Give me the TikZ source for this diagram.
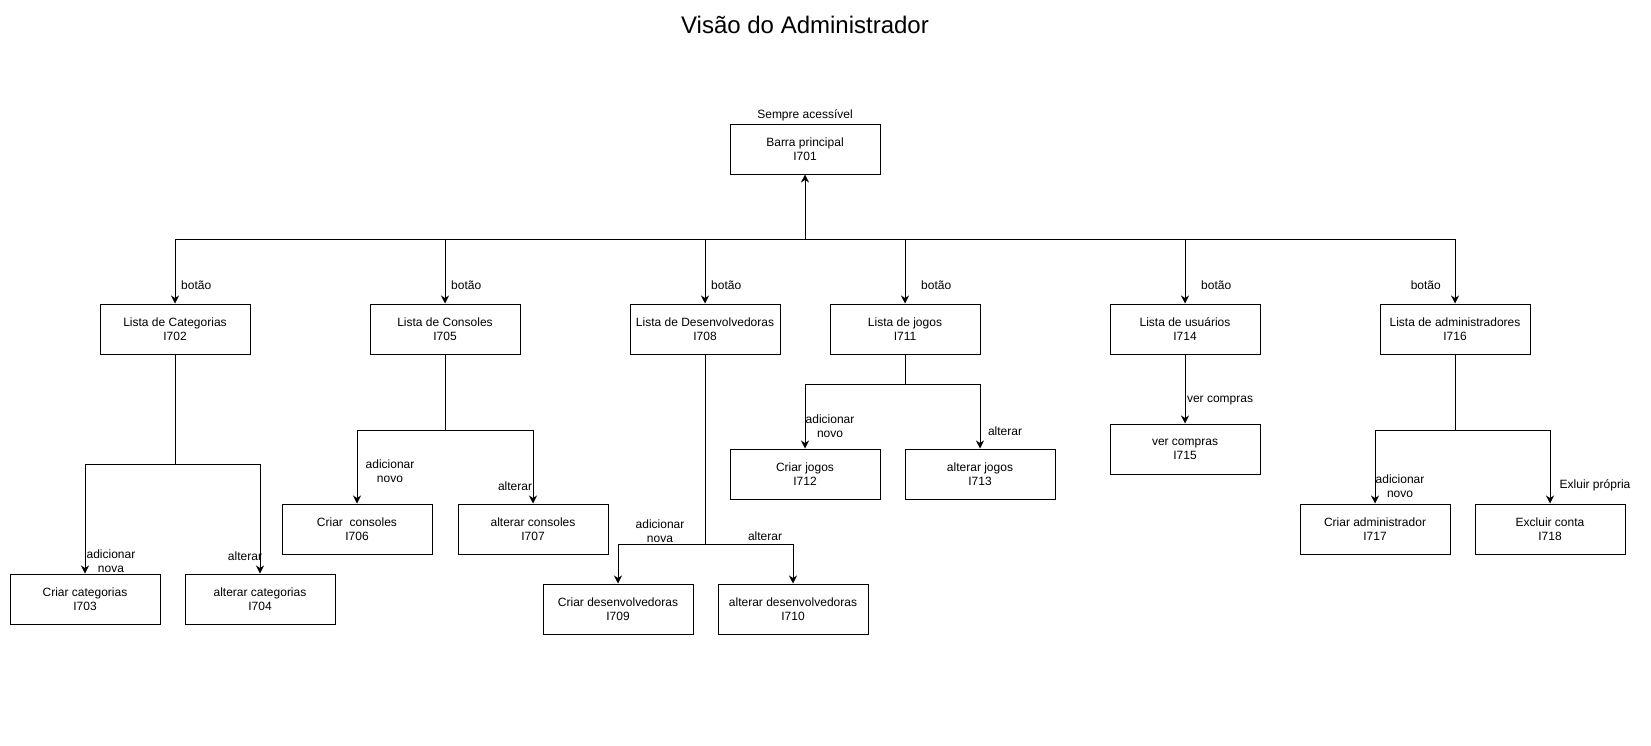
\documentclass[tikz,border=0pt]{standalone}
\usepackage{fontspec}
\setmainfont{Liberation Sans}
\usetikzlibrary{arrows.meta}
\begin{document}
\begin{tikzpicture}[x=1pt,y=-1pt,
  box/.style={draw,line width=1pt,minimum width=150pt,minimum height=50pt,inner sep=0pt,align=center,font=\fontsize{12}{14}\selectfont},
  lbl/.style={inner sep=0pt,align=center,font=\fontsize{12}{14}\selectfont},
  conn/.style={line width=1pt},
  arr/.style={line width=1pt,-{Stealth[length=8pt,width=8pt,inset=2.5pt]}},
  rarr/.style={line width=1pt,{Stealth[length=8pt,width=8pt,inset=2.5pt]}-}]
\useasboundingbox (0,0) rectangle (1651,745);
\node[lbl,font=\fontsize{24}{28}\selectfont] (title) at (805,25) {Visão do Administrador};
\node[lbl] (sempre) at (805,115) {Sempre acessível};
\node[box] (barra) at (805,149) {Barra principal\\I701};
\node[box] (cat) at (175,329) {Lista de Categorias\\I702};
\node[box] (cons) at (445,329) {Lista de Consoles\\I705};
\node[box] (dev) at (705,329) {Lista de Desenvolvedoras\\I708};
\node[box] (jog) at (905,329) {Lista de jogos\\I711};
\node[box] (usu) at (1185,329) {Lista de usuários\\I714};
\node[box] (adm) at (1455,329) {Lista de administradores\\I716};
\node[box] (c703) at (85,599) {Criar categorias\\I703};
\node[box] (c704) at (260,599) {alterar categorias\\I704};
\node[box] (c706) at (357,529) {Criar\ \ consoles\\I706};
\node[box] (c707) at (533,529) {alterar consoles\\I707};
\node[box] (c709) at (618,609) {Criar desenvolvedoras\\I709};
\node[box] (c710) at (793,609) {alterar desenvolvedoras\\I710};
\node[box] (c712) at (805,474) {Criar jogos\\I712};
\node[box] (c713) at (980,474) {alterar jogos\\I713};
\node[box] (c715) at (1185,449) {ver compras\\I715};
\node[box] (c717) at (1375,529) {Criar administrador\\I717};
\node[box] (c718) at (1550,529) {Excluir conta\\I718};
\coordinate (bus) at (805,239);
% top level
\draw[rarr] (barra.south) -- (bus);
\foreach \n in {cat,cons,dev,jog,usu,adm} \draw[arr] (bus) -| (\n.north);
% categorias
\draw[conn] (cat.south) -- (cat.south |- 0,464);
\draw[arr] (cat.south |- 0,464) -| (c703.north);
\draw[arr] (cat.south |- 0,464) -| (c704.north);
% consoles
\draw[conn] (cons.south) -- (cons.south |- 0,430);
\draw[arr] (cons.south |- 0,430) -| (c706.north);
\draw[arr] (cons.south |- 0,430) -| (c707.north);
% desenvolvedoras
\draw[conn] (dev.south) -- (dev.south |- 0,544);
\draw[arr] (dev.south |- 0,544) -| (c709.north);
\draw[arr] (dev.south |- 0,544) -| (c710.north);
% jogos
\draw[conn] (jog.south) -- (jog.south |- 0,384);
\draw[arr] (jog.south |- 0,384) -| (c712.north);
\draw[arr] (jog.south |- 0,384) -| (c713.north);
% usuarios
\draw[arr] (usu.south) -- (c715.north);
% administradores
\draw[conn] (adm.south) -- (adm.south |- 0,430);
\draw[arr] (adm.south |- 0,430) -| (c717.north);
\draw[arr] (adm.south |- 0,430) -| (c718.north);
% labels
\node[lbl,anchor=west] (b1) at (181,285) {botão};
\node[lbl,anchor=west] (b2) at (451,285) {botão};
\node[lbl,anchor=west] (b3) at (711,285) {botão};
\node[lbl,anchor=west] (b4) at (921,285) {botão};
\node[lbl,anchor=west] (b5) at (1201,285) {botão};
\node[lbl,anchor=east] (b6) at (1441,285) {botão};
\node[lbl] (l1) at (111,561) {adicionar\\nova};
\node[lbl] (l2) at (245,556) {alterar};
\node[lbl] (l3) at (390,471) {adicionar\\novo};
\node[lbl] (l4) at (515,486) {alterar};
\node[lbl] (l5) at (660,531) {adicionar\\nova};
\node[lbl] (l6) at (765,536) {alterar};
\node[lbl] (l7) at (830,426) {adicionar\\novo};
\node[lbl] (l8) at (1005,431) {alterar};
\node[lbl] (l9) at (1220,401) {ver compras};
\node[lbl] (l10) at (1400,486) {adicionar\\novo};
\node[lbl] (l11) at (1595,485) {Exluir própria};
\end{tikzpicture}
\end{document}
